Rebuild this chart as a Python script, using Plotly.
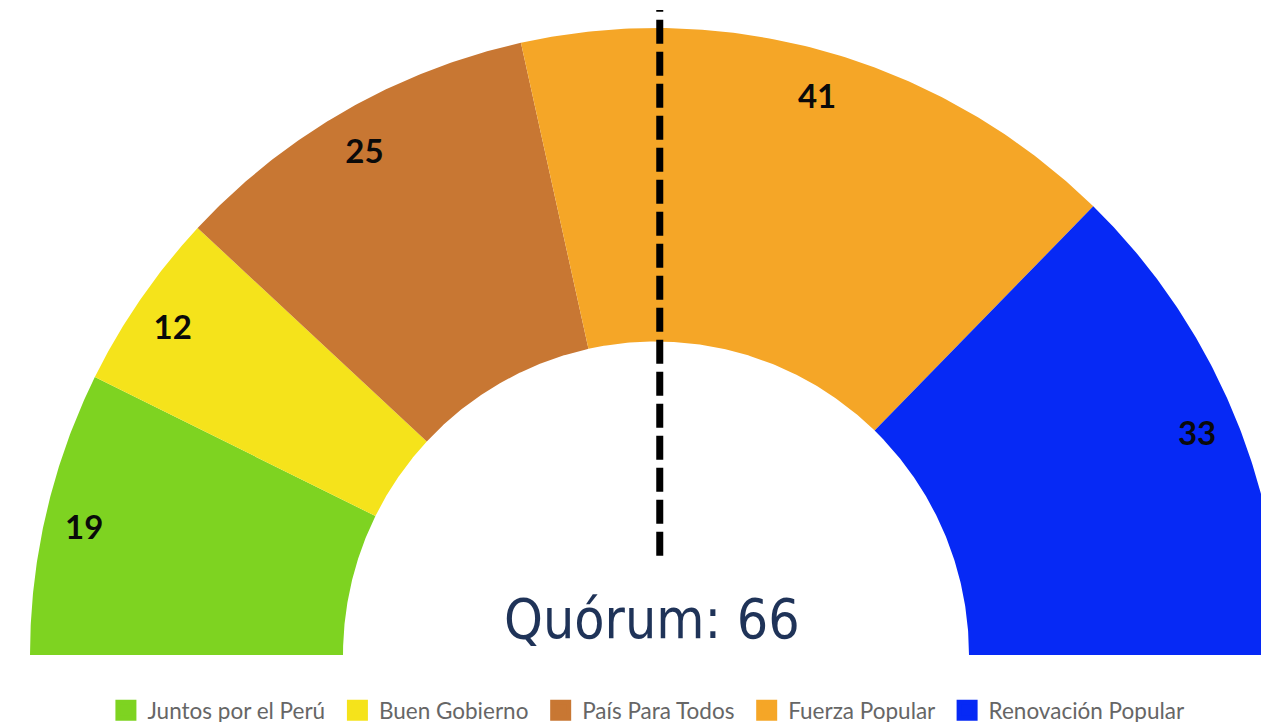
import numpy as np
import plotly.graph_objects as go

parties = ["Juntos por el Perú", "Buen Gobierno", "País Para Todos", "Fuerza Popular", "Renovación Popular"]
seats = [19, 12, 25, 41, 33]
colors = ["#7ed321", "#f5e31b", "#c87733", "#f5a627", "#0629f5"]
quorum = 66

W = 1261
H = 732           # figure height (viewport compensation)
CX, CY, R = 656, 654, 626  # target pixel geometry of the arch
HOLE = 0.5
LABEL_R = 0.938

total = sum(seats)
fig = go.Figure()

cum = np.concatenate([[0], np.cumsum(seats)])
for i, (p, v, c) in enumerate(zip(parties, seats, colors)):
    a0 = np.pi - cum[i] / total * np.pi
    a1 = np.pi - cum[i + 1] / total * np.pi
    t = np.linspace(a0, a1, 120)
    xs = np.concatenate([np.cos(t), HOLE * np.cos(t[::-1])])
    ys = np.concatenate([np.sin(t), HOLE * np.sin(t[::-1])])
    fig.add_trace(go.Scatter(x=xs, y=ys, fill="toself", fillcolor=c, mode="lines",
                             line=dict(width=0, color=c), hoverinfo="skip", showlegend=False))
    am = (a0 + a1) / 2
    fig.add_trace(go.Scatter(x=[LABEL_R * np.cos(am)], y=[LABEL_R * np.sin(am) - 0.016], mode="text",
                             text=[str(v)], textfont=dict(family="Lato", size=33, color="#0a0a0a", weight="bold"),
                             hoverinfo="skip", showlegend=False))

for p, c in zip(parties, colors):
    fig.add_trace(go.Scatter(x=[None], y=[None], mode="markers", name=p + "\u00a0",
                             marker=dict(symbol="square", size=16, color=c, line=dict(width=5, color=c))))

# quorum line
fig.add_shape(type="line", x0=0.006, x1=0.006, y0=(CY - 555) / R, y1=(CY - 10) / R,
              line=dict(color="black", width=7, dash="24px,8px"), layer="above")

fig.add_annotation(x=-0.006, y=(CY - 618) / R, text=f"Quórum: {quorum}", showarrow=False,
                   font=dict(family="DejaVu Sans Condensed, sans-serif", size=55, color="#1f3358"),
                   xanchor="center", yanchor="middle")

fig.update_xaxes(range=[-CX / R, (W - CX) / R], visible=False, fixedrange=True)
fig.update_yaxes(range=[-(722 - CY) / R, CY / R], visible=False, fixedrange=True)
fig.update_layout(
    width=W, height=H, margin=dict(l=0, r=0, t=0, b=0),
    paper_bgcolor="white", plot_bgcolor="white",
    legend=dict(orientation="h", x=0.515, xanchor="center", y=(722 - 710) / 722, yanchor="middle",
                font=dict(family="Lato", size=22.5, color="#666666"), itemsizing="trace",
                bgcolor="rgba(0,0,0,0)", tracegroupgap=0, itemwidth=33),
)
fig.write_html(
    "out.html",
    config={"displayModeBar": False},
    post_script=(
        "document.documentElement.style.margin='0';document.documentElement.style.padding='0';"
        "document.documentElement.style.overflow='hidden';"
        "document.body.style.margin='0';document.body.style.padding='0';"
        "document.body.style.overflow='hidden';"
    ),
)
